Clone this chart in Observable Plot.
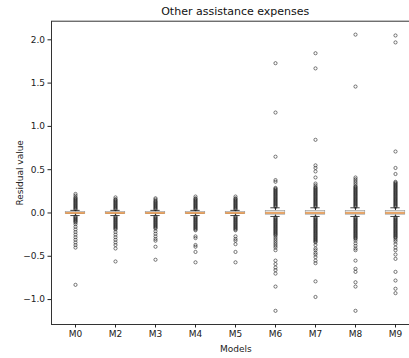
<!DOCTYPE html>
<html>
<head>
<meta charset="utf-8">
<script src="https://cdn.jsdelivr.net/npm/d3@7"></script>
<script src="https://cdn.jsdelivr.net/npm/@observablehq/plot@0.6"></script>
<style>
  html, body { margin: 0; padding: 0; background: #fff; overflow: hidden; }
  #wrap { position: relative; width: 409px; height: 358px; overflow: hidden; }
  #title { position: absolute; z-index: 2; left: 51px; width: 368.5px; top: 6px; text-align: center;
           font-family: "DejaVu Sans", sans-serif; font-size: 11px; line-height: 11px; color: #111; }
</style>
</head>
<body>
<div id="wrap"><div id="title">Other assistance expenses</div></div>
<script>
const models = ["M0", "M2", "M3", "M4", "M5", "M6", "M7", "M8", "M9"];
const medians = [0, 0, 0, 0, 0, 0, 0, 0, 0];
const q1s = [-0.01, -0.01, -0.01, -0.01, -0.01, -0.02, -0.02, -0.02, -0.02];
const q3s = [0.012, 0.012, 0.012, 0.012, 0.012, 0.025, 0.025, 0.025, 0.025];
const whiskerLo = [-0.03, -0.03, -0.03, -0.03, -0.03, -0.04, -0.04, -0.04, -0.04];
const whiskerHi = [0.03, 0.03, 0.03, 0.03, 0.03, 0.06, 0.06, 0.06, 0.06];
const yTicks = [-1.0, -0.5, 0.0, 0.5, 1.0, 1.5, 2.0];

const outM0 = [0.22,0.20,0.18,0.17,0.16,0.15,0.14,0.13,0.12,0.11,0.10,0.09,0.08,0.07,0.06,0.05,0.04,
  -0.04,-0.05,-0.06,-0.07,-0.08,-0.09,-0.10,-0.11,-0.13,-0.16,-0.19,-0.22,-0.25,-0.28,-0.31,-0.34,-0.37,-0.40,-0.83];
const outM2 = [0.18,0.16,0.15,0.14,0.13,0.12,0.11,0.10,0.09,0.08,0.07,0.06,0.05,0.04,
  -0.04,-0.05,-0.06,-0.07,-0.08,-0.09,-0.10,-0.11,-0.12,-0.13,-0.14,-0.15,-0.16,-0.17,-0.18,-0.19,
  -0.22,-0.25,-0.28,-0.31,-0.34,-0.37,-0.41,-0.56];
const outM3 = [0.17,0.155,0.14,0.13,0.12,0.11,0.10,0.09,0.08,0.07,0.06,0.05,0.04,
  -0.04,-0.05,-0.06,-0.07,-0.08,-0.09,-0.10,-0.11,-0.12,-0.13,-0.14,-0.15,-0.16,-0.17,-0.18,
  -0.21,-0.24,-0.27,-0.30,-0.32,-0.39,-0.54];
const outM4 = [0.19,0.17,0.16,0.15,0.14,0.13,0.12,0.11,0.10,0.09,0.08,0.07,0.06,0.05,0.04,
  -0.04,-0.05,-0.06,-0.07,-0.08,-0.09,-0.10,-0.11,-0.12,-0.13,-0.14,-0.15,-0.16,-0.17,-0.18,-0.19,-0.20,
  -0.27,-0.29,-0.37,-0.39,-0.45,-0.57];
const outM5 = [0.19,0.17,0.16,0.15,0.14,0.13,0.12,0.11,0.10,0.09,0.08,0.07,0.06,0.05,0.04,
  -0.04,-0.05,-0.06,-0.07,-0.08,-0.09,-0.10,-0.11,-0.12,-0.13,-0.14,-0.15,-0.16,-0.17,-0.18,-0.19,-0.20,
  -0.27,-0.30,-0.32,-0.36,-0.45,-0.57];
const outM6 = [1.73,1.16,0.65,0.38,0.36,0.29,0.28,
  0.27,0.26,0.25,0.24,0.23,0.22,0.21,0.20,0.19,0.18,0.17,0.16,0.15,0.14,0.13,0.12,0.11,0.10,0.09,0.08,0.07,
  -0.05,-0.06,-0.07,-0.08,-0.09,-0.10,-0.11,-0.12,-0.13,-0.14,-0.15,-0.16,-0.17,-0.18,-0.19,-0.20,-0.21,-0.22,-0.23,-0.24,-0.25,-0.26,
  -0.28,-0.30,-0.32,-0.34,-0.36,-0.38,-0.40,-0.43,-0.55,-0.59,-0.63,-0.66,-0.70,-0.85,-1.13];
const outM7 = [1.845,1.67,0.845,0.55,0.52,0.48,0.41,0.34,0.32,0.30,
  0.29,0.28,0.27,0.26,0.25,0.24,0.23,0.22,0.21,0.20,0.19,0.18,0.17,0.16,0.15,0.14,0.13,0.12,0.11,0.10,0.09,0.08,0.07,
  -0.05,-0.06,-0.07,-0.08,-0.09,-0.10,-0.11,-0.12,-0.13,-0.14,-0.15,-0.16,-0.17,-0.18,-0.19,-0.20,-0.21,-0.22,-0.23,-0.24,-0.25,
  -0.26,-0.27,-0.28,-0.29,-0.30,-0.31,-0.32,-0.33,-0.34,
  -0.37,-0.41,-0.43,-0.46,-0.48,-0.51,-0.55,-0.58,-0.79,-0.97];
const outM8 = [2.06,1.46,0.41,0.39,0.37,0.35,0.33,0.31,
  0.30,0.29,0.28,0.27,0.26,0.25,0.24,0.23,0.22,0.21,0.20,0.19,0.18,0.17,0.16,0.15,0.14,0.13,0.12,0.11,0.10,0.09,0.08,0.07,
  -0.05,-0.06,-0.07,-0.08,-0.09,-0.10,-0.11,-0.12,-0.13,-0.14,-0.15,-0.16,-0.17,-0.18,-0.19,-0.20,-0.21,-0.22,-0.23,-0.24,-0.25,
  -0.26,-0.27,-0.28,-0.29,-0.30,
  -0.32,-0.35,-0.38,-0.41,-0.43,-0.55,-0.645,-0.68,-0.80,-0.85,-1.13];
const outM9 = [2.05,1.97,0.71,0.52,0.45,0.36,0.35,
  0.34,0.33,0.32,0.31,0.30,0.29,0.28,0.27,0.26,0.25,0.24,0.23,0.22,0.21,0.20,0.19,0.18,0.17,0.16,0.15,0.14,0.13,0.12,0.11,0.10,0.09,0.08,0.07,
  -0.05,-0.06,-0.07,-0.08,-0.09,-0.10,-0.11,-0.12,-0.13,-0.14,-0.15,-0.16,-0.17,-0.18,-0.19,-0.20,-0.21,-0.22,-0.23,-0.24,-0.25,
  -0.26,-0.27,-0.28,-0.29,
  -0.31,-0.33,-0.36,-0.40,-0.43,-0.48,-0.53,-0.68,-0.78,-0.875,-0.926];

const outLists = [outM0, outM2, outM3, outM4, outM5, outM6, outM7, outM8, outM9];
const boxes = models.map((m, i) => ({model: m, med: medians[i], q1: q1s[i], q3: q3s[i], lo: whiskerLo[i], hi: whiskerHi[i]}));
const outliers = models.flatMap((m, i) => outLists[i].map(v => ({model: m, value: v})));

const W = 420, H = 358;
const step = (W - 0.5 - 51) / models.length;
const boxInset = (step - step * 0.5) / 2;
const capInset = (step - step * 0.25) / 2;

const chart = Plot.plot({
  width: W,
  height: H,
  marginLeft: 51,
  marginRight: 0.5,
  marginTop: 20.7,
  marginBottom: 34,
  style: {fontFamily: "DejaVu Sans, sans-serif", fontSize: "9px", color: "#222", background: "#fff", maxWidth: "none"},
  x: {type: "band", domain: models, padding: 0},
  y: {domain: [-1.288, 2.215]},
  marks: [
    Plot.frame({stroke: "#333", strokeWidth: 1}),
    Plot.axisY({ticks: yTicks, tickFormat: d3.format(".1f"), tickSize: 3.5, tickPadding: 3,
      label: "Residual value", labelAnchor: "center", labelOffset: 35, labelArrow: "none"}),
    Plot.axisX({tickSize: 3.5, tickPadding: 3, label: "Models", labelAnchor: "center", labelOffset: 27}),
    Plot.ruleX(boxes, {x: "model", y1: "lo", y2: "q1", stroke: "#111", strokeWidth: 0.8}),
    Plot.ruleX(boxes, {x: "model", y1: "q3", y2: "hi", stroke: "#111", strokeWidth: 0.8}),
    Plot.tickY(boxes, {x: "model", y: "lo", insetLeft: capInset, insetRight: capInset, stroke: "#111", strokeWidth: 0.8}),
    Plot.tickY(boxes, {x: "model", y: "hi", insetLeft: capInset, insetRight: capInset, stroke: "#111", strokeWidth: 0.8}),
    Plot.dot(outliers, {x: "model", y: "value", r: 1.6, stroke: "#222", strokeWidth: 0.6, fill: "none"}),
    Plot.barY(boxes, {x: "model", y1: "q1", y2: "q3", insetLeft: boxInset, insetRight: boxInset, fill: "#e4e0dc", stroke: "#999", strokeWidth: 0.6}),
    Plot.tickY(boxes, {x: "model", y: "med", insetLeft: boxInset, insetRight: boxInset, stroke: "#e8801e", strokeWidth: 1.2})
  ]
});
chart.style.maxWidth = "none";
chart.style.width = W + "px";
chart.style.height = H + "px";
chart.style.position = "absolute";
chart.style.left = "0px";
chart.style.top = "0px";
chart.style.zIndex = "1";
document.getElementById("wrap").appendChild(chart);
</script>
</body>
</html>
